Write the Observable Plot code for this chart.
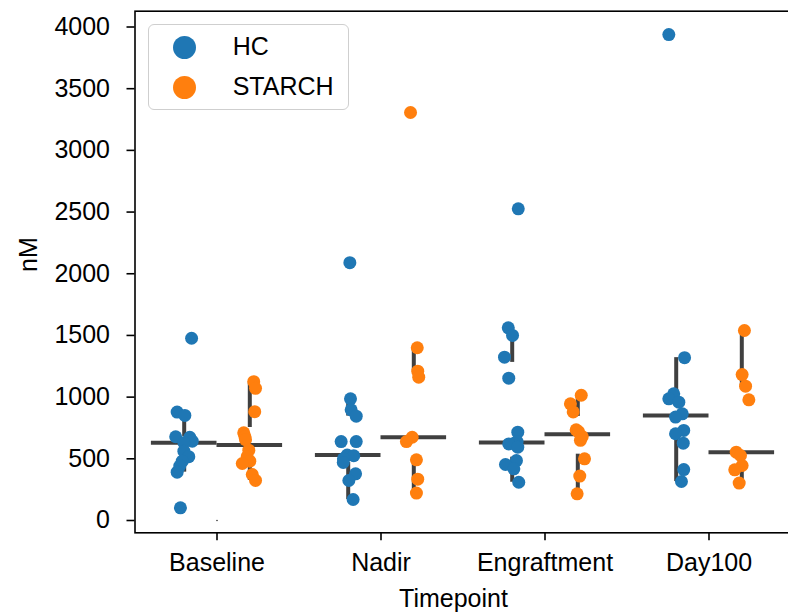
<!DOCTYPE html>
<html>
<head>
<meta charset="utf-8">
<script src="https://cdn.jsdelivr.net/npm/d3@7"></script>
<script src="https://cdn.jsdelivr.net/npm/@observablehq/plot@0.6"></script>
<style>
  html, body { margin: 0; padding: 0; background: white; overflow: hidden; }
  #wrap { position: relative; width: 788px; height: 615px; overflow: hidden; font-family: "Liberation Sans", Arial, Helvetica, sans-serif; }
  #legend { position: absolute; left: 148px; top: 24px; width: 201px; height: 86px; box-sizing: border-box;
            border: 1.3px solid #cfcfcf; border-radius: 6px; background: rgba(255,255,255,0.8); }
  .lg-dot { position: absolute; width: 23px; height: 23px; border-radius: 50%; }
  .lg-txt { position: absolute; font-size: 25px; line-height: 25px; color: #000; }
</style>
</head>
<body>
<div id="wrap"><div id="legend"></div></div>
<script>
// ---- data ----
const categories = ["Baseline", "Nadir", "Engraftment", "Day100"];
const hues = ["HC", "STARCH"];
const colors = ["#1f77b4", "#ff7f0e"];
const yTicks = [0, 500, 1000, 1500, 2000, 2500, 3000, 3500, 4000];

const baselineHC = [1477, 879, 852, 679, 675, 643, 630, 562, 517, 481, 441, 392, 103];
const baselineHCJitter = [0.045, -0.043, 0.004, -0.052, 0.034, 0.049, -0.002, -0.002, 0.028, -0.012, -0.027, -0.043, -0.023];
const baselineST = [1125, 1071, 882, 711, 680, 655, 570, 517, 481, 462, 373, 325];
const baselineSTJitter = [0.024, 0.035, 0.030, -0.037, -0.030, -0.026, -0.006, -0.016, 0.000, -0.046, 0.015, 0.035];

const nadirHC = [2090, 986, 897, 846, 640, 640, 530, 525, 500, 470, 378, 324, 170];
const nadirHCJitter = [0.010, 0.014, 0.018, 0.049, -0.043, 0.049, -0.006, 0.034, -0.029, -0.030, 0.045, 0.004, 0.030];
const nadirST = [3307, 1400, 1210, 1162, 675, 640, 492, 335, 222];
const nadirSTJitter = [-0.020, 0.021, 0.024, 0.030, -0.010, -0.045, 0.016, 0.024, 0.016];

const engraftHC = [2526, 1562, 1500, 1324, 1154, 716, 640, 625, 621, 594, 486, 454, 419, 310];
const engraftHCJitter = [0.037, -0.024, 0.002, -0.047, -0.021, 0.034, 0.030, 0.010, -0.021, 0.034, 0.026, -0.041, 0.010, 0.040];
const engraftST = [1015, 946, 880, 735, 720, 680, 650, 500, 360, 216];
const engraftSTJitter = [0.021, -0.045, -0.028, -0.010, 0.004, 0.027, 0.016, 0.041, 0.012, -0.004];

const day100HC = [3939, 1320, 1027, 986, 959, 865, 838, 730, 703, 627, 413, 316];
const day100HCJitter = [-0.045, 0.051, -0.015, -0.045, 0.016, 0.037, -0.004, 0.046, -0.004, 0.043, 0.046, 0.032];
const day100ST = [1540, 1183, 1089, 978, 554, 527, 446, 411, 303];
const day100STJitter = [0.016, 0.002, 0.023, 0.043, -0.034, -0.008, 0.002, -0.043, -0.016];

// a stray tiny marker visible at Baseline / 0
const strayCategory = ["Baseline"];
const strayValue = [0];

// ---- build tables ----
const groups = [
  ["Baseline", "HC", baselineHC, baselineHCJitter],
  ["Baseline", "STARCH", baselineST, baselineSTJitter],
  ["Nadir", "HC", nadirHC, nadirHCJitter],
  ["Nadir", "STARCH", nadirST, nadirSTJitter],
  ["Engraftment", "HC", engraftHC, engraftHCJitter],
  ["Engraftment", "STARCH", engraftST, engraftSTJitter],
  ["Day100", "HC", day100HC, day100HCJitter],
  ["Day100", "STARCH", day100ST, day100STJitter]
];
const hueOffset = h => (h === "HC" ? -0.2 : 0.2);

const points = [];
const stats = [];
for (const [t, h, vals, jit] of groups) {
  const pos = categories.indexOf(t) + hueOffset(h);
  vals.forEach((v, i) => points.push({t, h, v, x: pos + jit[i]}));
  const s = vals.slice().sort(d3.ascending);
  const q1 = d3.quantile(s, 0.25), med = d3.quantile(s, 0.5), q3 = d3.quantile(s, 0.75);
  const iqr = q3 - q1;
  const lo = d3.min(s.filter(v => v >= q1 - 1.5 * iqr));
  const hi = d3.max(s.filter(v => v <= q3 + 1.5 * iqr));
  stats.push({t, h, pos, q1, med, q3, lo, hi});
}
const stray = strayCategory.map((t, i) => ({x: categories.indexOf(t), v: strayValue[i]}));

const lineColor = "#404040";

const chart = Plot.plot({
  width: 788,
  height: 615,
  marginLeft: 134.5,
  marginRight: -2.5,
  marginTop: 10.7,
  marginBottom: 82.7,
  style: {fontFamily: "'Liberation Sans', Arial, Helvetica, sans-serif", fontSize: "25px", color: "black", background: "white"},
  x: {type: "linear", domain: [-0.5, 3.5]},
  y: {domain: [-99.7, 4128.1]},
  color: {domain: hues, range: colors},
  marks: [
    Plot.ruleY(stats, {y: "med", x1: d => d.pos - 0.2, x2: d => d.pos + 0.2, stroke: lineColor, strokeWidth: 4}),
    Plot.ruleX(stats, {x: "pos", y1: "q3", y2: "hi", stroke: lineColor, strokeWidth: 4}),
    Plot.ruleX(stats, {x: "pos", y1: "q1", y2: "lo", stroke: lineColor, strokeWidth: 4}),
    Plot.dot(points, {x: "x", y: "v", fill: "h", r: 6.5, stroke: "none"}),
    Plot.dot(stray, {x: "x", y: "v", r: 0.8, fill: "#333"}),
    Plot.frame({stroke: "black", strokeWidth: 1.6}),
    Plot.axisX({ticks: [0, 1, 2, 3], tickFormat: i => categories[i], tickSize: 8, tickPadding: 12.7, strokeWidth: 1.6, label: null, fontSize: 25}),
    Plot.axisY({ticks: yTicks, tickFormat: d => String(d), tickSize: 8, tickPadding: 17, strokeWidth: 1.6, label: null, fontSize: 25}),
    Plot.text(["Timepoint"], {frameAnchor: "bottom", text: d => d, dy: 66, dx: -9.5, lineAnchor: "middle", fontSize: 25, fill: "black"}),
    Plot.text(["nM"], {frameAnchor: "left", text: d => d, rotate: -90, dx: -106.5, lineAnchor: "middle", fontSize: 25, fill: "black"})
  ]
});
const wrap = document.getElementById("wrap");
wrap.insertBefore(chart, wrap.firstChild);

// legend
const legend = document.getElementById("legend");
hues.forEach((h, i) => {
  const dot = document.createElement("div");
  dot.className = "lg-dot";
  dot.style.background = colors[i];
  dot.style.left = (25 - 1.3) + "px";
  dot.style.top = (12.5 + 40 * i - 1.3) + "px";
  legend.appendChild(dot);
  const txt = document.createElement("div");
  txt.className = "lg-txt";
  txt.textContent = h;
  txt.style.left = (85 - 1.3) + "px";
  txt.style.top = (10 + 40 * i - 1.3) + "px";
  legend.appendChild(txt);
});
</script>
</body>
</html>
